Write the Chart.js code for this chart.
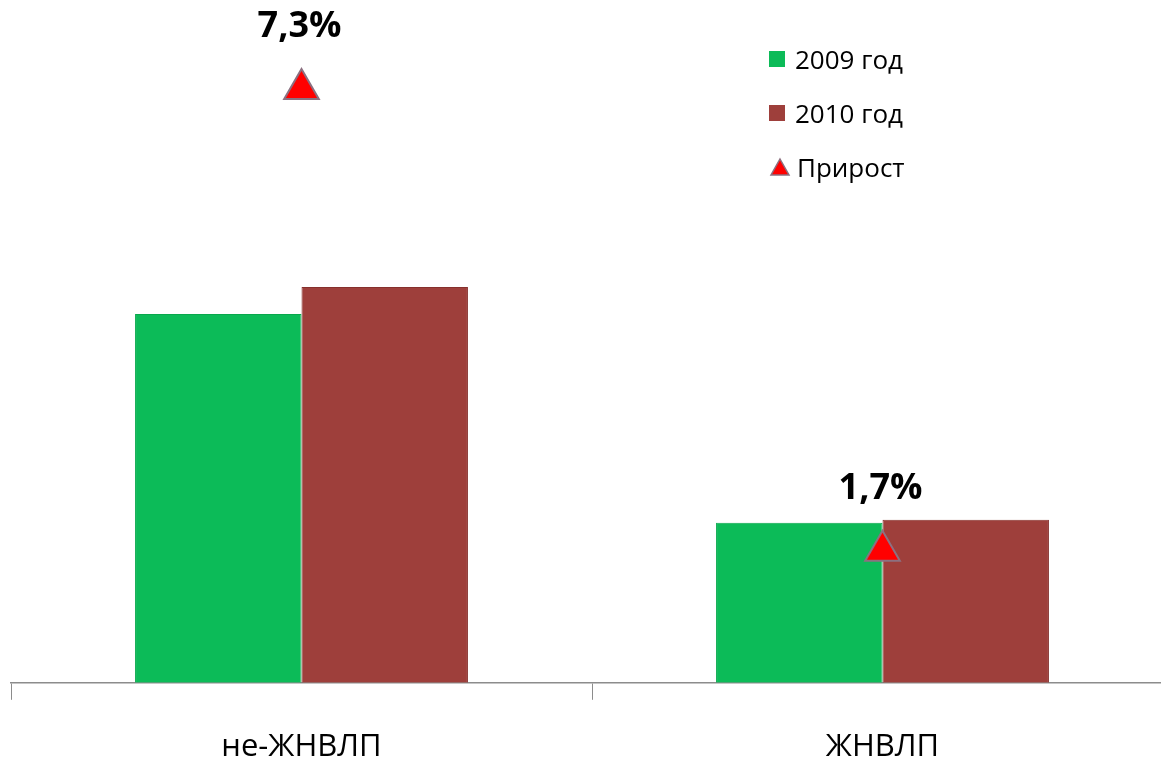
<!DOCTYPE html>
<html>
<head>
<meta charset="utf-8">
<script src="https://cdn.jsdelivr.net/npm/chart.js@4/dist/chart.umd.min.js"></script>
<style>
  html, body { margin: 0; padding: 0; background: #fff; overflow: hidden; }
  #wrap { position: relative; width: 1161px; height: 769px; overflow: hidden; }
  #legend { position: absolute; left: 769px; top: 32px; font-family: "Open Sans", sans-serif; font-size: 26px; color: #000; }
  #legend div { height: 54px; display: flex; align-items: center; }
  #legend .box { width: 16px; height: 16px; margin-right: 10px; }
</style>
</head>
<body>
<div id="wrap">
  <canvas id="growthCanvas" width="1180" height="795"></canvas>
  <div id="legend"></div>
</div>
<script>
// categories and series
const categories = ["не-ЖНВЛП", "ЖНВЛП"];
const year2009 = [100, 43.4];
const year2010 = [107.3, 44.2];
const growth = [7.3, 1.7];
const growthLabels = ["7,3%", "1,7%"];

const green = "#0cbb58";
const red = "#9e3f3b";

// writes "7,3%" above each triangle
const growthLabelPlugin = {
	id: "growthLabels",
	afterDatasetsDraw(chart){
		const meta = chart.getDatasetMeta(2);
		const ctx = chart.ctx;
		ctx.save();
		ctx.font = "bold 36px 'Open Sans', sans-serif";
		ctx.fillStyle = "#000";
		ctx.textAlign = "center";
		ctx.textBaseline = "middle";
		meta.data.forEach((pt, i) => {
			ctx.fillText(growthLabels[i], pt.x - 2, pt.y - 62);
		});
		ctx.restore();
	}
};

var ctx = document.getElementById('growthCanvas');
var chart = new Chart(ctx, {
	type: 'bar',
	data: {
		labels: categories,
		datasets: [{
			label: '2009 год',
			data: year2009,
			backgroundColor: green,
			borderColor: '#08a84c',
			borderWidth: 1,
			categoryPercentage: 0.573,
			barPercentage: 1,
			yAxisID: 'y',
			order: 2
		}, {
			label: '2010 год',
			data: year2010,
			backgroundColor: red,
			borderColor: '#86302d',
			borderWidth: 1,
			categoryPercentage: 0.573,
			barPercentage: 1,
			yAxisID: 'y',
			order: 2
		}, {
			type: 'line',
			label: 'Прирост',
			data: growth,
			showLine: false,
			pointStyle: 'triangle',
			pointRadius: 20,
			pointBackgroundColor: '#ff0000',
			pointBorderColor: '#8c7080',
			pointBorderWidth: 2,
			yAxisID: 'y2',
			order: 1
		}]
	},
	options: {
		responsive: false,
		animation: false,
		layout: { autoPadding: false, padding: { top: 0, left: 11, right: 7, bottom: 0 } },
		plugins: {
			legend: { display: false },
			tooltip: { enabled: false }
		},
		scales: {
			x: {
				offset: true,
				grid: {
					offset: true,
					drawOnChartArea: false,
					drawTicks: true,
					tickLength: 17,
					color: '#8c8c8c'
				},
				border: { color: '#8c8c8c', width: 1.5 },
				ticks: {
					padding: 29,
					color: '#000',
					font: { family: "'Open Sans', sans-serif", size: 31 }
				}
			},
			y: {
				display: false,
				min: 0,
				max: 185.1
			},
			y2: {
				display: false,
				min: 0.1,
				max: 8.38
			}
		}
	},
	plugins: [growthLabelPlugin]
});

// html legend built from the datasets
const legend = document.getElementById('legend');
chart.data.datasets.forEach(ds => {
	const row = document.createElement('div');
	let mark;
	if (ds.pointStyle === 'triangle') {
		mark = '<svg width="22" height="20" style="margin-right:6px"><polygon points="11,2 20,18 2,18" fill="#ff0000" stroke="#8c7080" stroke-width="1.5"/></svg>';
	} else {
		mark = '<span class="box" style="background:' + ds.backgroundColor + '"></span>';
	}
	row.innerHTML = mark + '<span>' + ds.label + '</span>';
	legend.appendChild(row);
});
</script>
</body>
</html>
